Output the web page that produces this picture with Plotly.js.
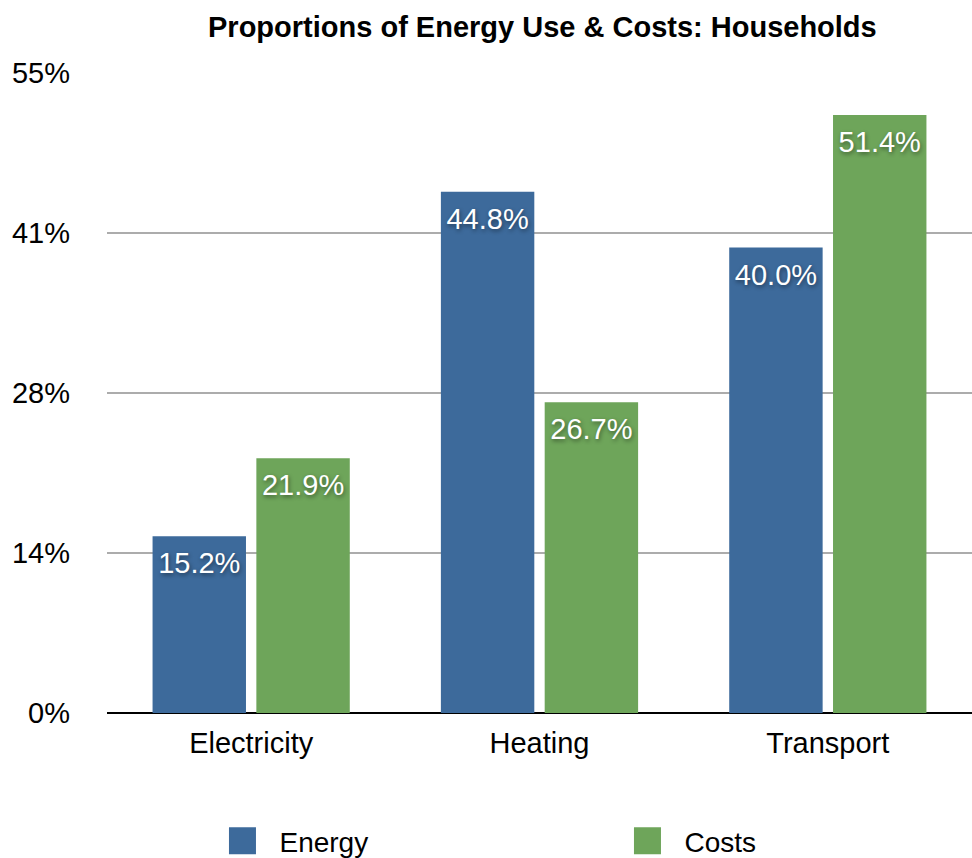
<!DOCTYPE html>
<html>
<head>
<meta charset="utf-8">
<script src="https://cdn.plot.ly/plotly-3.0.1.min.js"></script>
<style>html,body{margin:0;padding:0;background:#fff;}</style>
</head>
<body>
<div id="chart" style="width:972px;height:858px;"></div>
<script>
const categories = ["Electricity", "Heating", "Transport"];
const energyValues = [15.2, 44.8, 40.0];
const costValues = [21.9, 26.7, 51.4];
const tickValues = [0, 13.75, 27.5, 41.25, 55];
const tickLabels = ["0%", "14%", "28%", "41%", "55%"];

const FONT = "Liberation Sans, Helvetica, Arial, sans-serif";
const labelFont = {family: FONT, size: 29, color: "#ffffff", shadow: "1px 2px 4px rgba(0,0,0,0.45)"};

const traces = [
  {
    type: "bar", name: "Energy", x: categories, y: energyValues,
    marker: {color: "#3d6a9b"},
    text: energyValues.map(v => v.toFixed(1) + "%"),
    textposition: "inside", insidetextanchor: "end", constraintext: "none",
    textfont: labelFont, hoverinfo: "none"
  },
  {
    type: "bar", name: "Costs", x: categories, y: costValues,
    marker: {color: "#6ea55a"},
    text: costValues.map(v => v.toFixed(1) + "%"),
    textposition: "inside", insidetextanchor: "end", constraintext: "none",
    textfont: labelFont, hoverinfo: "none"
  }
];

const layout = {
  width: 972, height: 858,
  margin: {l: 107, r: 0, t: 73, b: 145, autoexpand: false},
  paper_bgcolor: "#ffffff", plot_bgcolor: "#ffffff",
  font: {family: FONT, color: "#000000"},
  title: {text: "<b>Proportions of Energy Use & Costs: Households</b>", font: {family: FONT, size: 29, color: "#000"}, x: 0.558, xanchor: "center", y: 0.969, yanchor: "middle"},
  barmode: "group", bargap: 0.28, bargroupgap: 0.1,
  xaxis: {
    type: "category", showgrid: false, zeroline: false, showline: false,
    ticks: "", tickfont: {family: FONT, size: 29, color: "#000"}, ticklabelstandoff: 10
  },
  yaxis: {
    range: [0, 55], tickvals: tickValues, ticktext: tickLabels,
    showgrid: true, gridcolor: "#acacac", gridwidth: 2,
    zeroline: true, zerolinecolor: "#000000", zerolinewidth: 2,
    showline: false, ticks: "", tickfont: {family: FONT, size: 29, color: "#000"},
    ticklabelstandoff: 36
  },
  showlegend: true,
  legend: {
    orientation: "h", x: 0.6017, xanchor: "center", y: -0.2, yanchor: "middle",
    font: {family: FONT, size: 28, color: "#000"},
    entrywidth: 360, entrywidthmode: "pixels", traceorder: "normal"
  }
};

Plotly.newPlot("chart", traces, layout, {displayModeBar: false, staticPlot: true}).then(gd => {
  gd.querySelectorAll(".legend .legendpoints path").forEach(p => {
    const t = p.getAttribute("transform") || "";
    p.setAttribute("transform", t + " scale(2.25)");
  });
  gd.querySelectorAll(".legend .legendtext").forEach(t => t.setAttribute("x", (+t.getAttribute("x") || 40) + 17));
  gd.querySelectorAll(".bars .bartext").forEach(t => {
    const y = parseFloat(t.getAttribute("y"));
    if (!isNaN(y)) t.setAttribute("y", y + 8);
  });
});
</script>
</body>
</html>
